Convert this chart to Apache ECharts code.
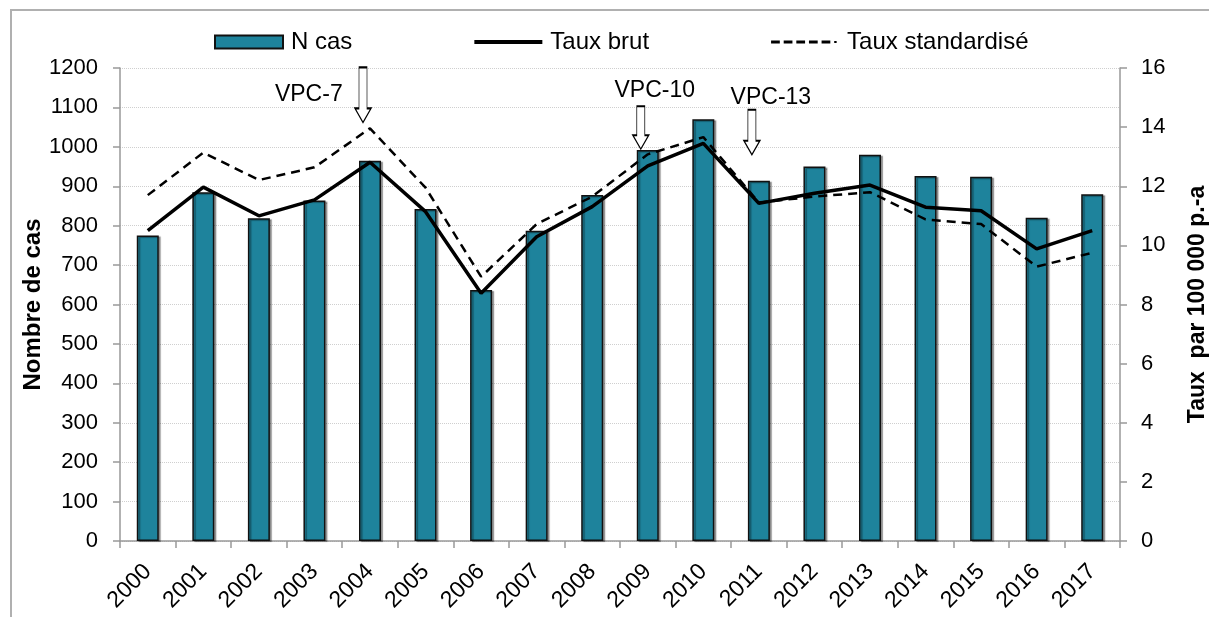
<!DOCTYPE html>
<html>
<head>
<meta charset="utf-8">
<script src="https://cdn.jsdelivr.net/npm/echarts@6/dist/echarts.min.js"></script>
<style>html,body{margin:0;padding:0;background:#fff}#c{width:1209px;height:617px}</style>
</head>
<body>
<div id="c"></div>
<script>
const years = ['2000','2001','2002','2003','2004','2005','2006','2007','2008','2009','2010','2011','2012','2013','2014','2015','2016','2017'];
const nCas = [775,885,819,864,965,842,637,787,878,992,1070,914,950,980,926,924,820,880];
const tauxBrut = [10.50,11.97,11.00,11.54,12.81,11.14,8.38,10.29,11.31,12.69,13.45,11.42,11.76,12.04,11.29,11.17,9.88,10.50];
const tauxStd = [11.70,13.14,12.21,12.64,13.96,11.95,8.94,10.72,11.65,13.08,13.66,11.45,11.65,11.80,10.88,10.72,9.28,9.75];
const annoYears = ['2004','2009','2011'];
const annoLabels = ['VPC-7','VPC-10','VPC-13'];
const annoTip = [1062,994,980];
const seriesNames = ['N cas','Taux brut','Taux standardisé'];
const leftAxisName = 'Nombre de cas';
const rightAxisName = 'Taux  par 100 000 p.-a';

const FONT = 'Liberation Sans';
function arrowPath(h){ return 'path://M4,0 L12,0 L12,' + (h-14) + ' L16,' + (h-14) + ' L8,' + h + ' L0,' + (h-14) + ' L4,' + (h-14) + ' Z'; }
const arrowH = [55,43,45];
const labelCfg = [
  {position:'left', distance:12},
  {position:'top', distance:3, offset:[14,0]},
  {position:'top', distance:0, offset:[19,0]}
];
const markData = annoYears.map((y,i)=>({
  coord:[y, annoTip[i]],
  symbol: arrowPath(arrowH[i]),
  symbolSize:[16, arrowH[i]],
  symbolOffset:[-7, -arrowH[i]/2],
  label: Object.assign({show:true, formatter: annoLabels[i], color:'#000', fontSize:23, fontFamily:FONT}, labelCfg[i])
}));
// legend icons (line shapes padded to a 70x13 box)
const solidIcon = 'path://M0,0 L0.01,0 L0,0.01 Z M0,4.5 L70,4.5 L70,8.5 L0,8.5 Z M0,13 L0.01,13 L0,12.99 Z';
const dashIcon = 'path://M0,0 L0.01,0 L0,0.01 Z M0,5 L9,5 L9,8 L0,8 Z M13,5 L22,5 L22,8 L13,8 Z M26,5 L35,5 L35,8 L26,8 Z M39,5 L48,5 L48,8 L39,8 Z M52,5 L61,5 L61,8 L52,8 Z M65,5.5 L67.5,5.5 L67.5,7.5 L65,7.5 Z M70,13 L69.99,13 L70,12.99 Z';

const chart = echarts.init(document.getElementById('c'));
chart.setOption({
  animation:false,
  textStyle:{fontFamily:FONT},
  graphic:[{type:'rect', shape:{x:11,y:10,width:1220,height:640}, style:{fill:'none', stroke:'#b0b0b0', lineWidth:2}, silent:true}],
  legend:{
    left:209, top:25, itemGap:122, itemWidth:68, itemHeight:13,
    textStyle:{fontSize:24, color:'#000', fontFamily:FONT, padding:[0,0,0,3]},
    data:[
      {name:seriesNames[0], icon:'rect'},
      {name:seriesNames[1], icon:solidIcon, itemStyle:{color:'#000', borderWidth:0}},
      {name:seriesNames[2], icon:dashIcon, itemStyle:{color:'#000', borderWidth:0}}
    ]
  },
  grid:{left:120, right:89, top:68, bottom:76, outerBoundsMode:'none', containLabel:false},
  xAxis:{
    type:'category', data:years, boundaryGap:true,
    axisLine:{lineStyle:{color:'#999', width:1.5}},
    axisTick:{show:true, length:7, alignWithLabel:false, lineStyle:{color:'#999', width:1.5}},
    axisLabel:{rotate:45, margin:27, fontSize:23, color:'#000', fontFamily:FONT, interval:0}
  },
  yAxis:[
    {type:'value', min:0, max:1200, interval:100, name:leftAxisName, nameLocation:'middle', nameRotate:90, nameGap:75, nameMoveOverlap:false,
     nameTextStyle:{fontSize:24, fontWeight:'bold', color:'#000', fontFamily:FONT},
     axisLine:{show:true, lineStyle:{color:'#999', width:1.5}},
     axisTick:{show:true, length:7, lineStyle:{color:'#999', width:1.5}},
     axisLabel:{margin:22, fontSize:22, color:'#000', fontFamily:FONT, formatter:(v)=>String(v)},
     splitLine:{show:true, lineStyle:{color:'#cfcfcf', type:'dotted', width:1}}},
    {type:'value', min:0, max:16, interval:2, name:rightAxisName, nameLocation:'middle', nameRotate:90, nameGap:66, nameMoveOverlap:false,
     nameTextStyle:{fontSize:23, fontWeight:'bold', color:'#000', fontFamily:FONT},
     axisLine:{show:true, lineStyle:{color:'#999', width:1.5}},
     axisTick:{show:true, length:7, lineStyle:{color:'#999', width:1.5}},
     axisLabel:{margin:21, fontSize:22, color:'#000', fontFamily:FONT, formatter:(v)=>String(v)},
     splitLine:{show:false}}
  ],
  series:[
    {name:seriesNames[0], type:'bar', data:nCas, barWidth:22, yAxisIndex:0,
     itemStyle:{color:'#1e839c', borderColor:'#111', borderWidth:1.5, shadowColor:'rgba(0,0,0,0.35)', shadowOffsetX:2, shadowOffsetY:1, shadowBlur:1},
     markPoint:{silent:true, itemStyle:{color:'#fff', borderColor:'#000', borderWidth:1.2}, data:markData}},
    {name:seriesNames[1], type:'line', data:tauxBrut, yAxisIndex:1, symbol:'none', z:5,
     lineStyle:{color:'#000', width:3.5}, itemStyle:{color:'#000'}},
    {name:seriesNames[2], type:'line', data:tauxStd, yAxisIndex:1, symbol:'none', z:5,
     lineStyle:{color:'#000', width:2.5, type:[9,6]}, itemStyle:{color:'#000'}}
  ]
});
</script>
</body>
</html>
